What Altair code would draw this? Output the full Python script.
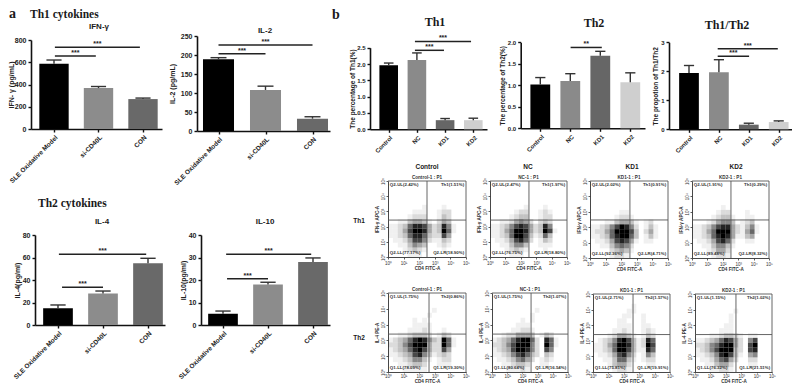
import json
import altair as alt
import pandas as pd

# ---------- data ----------
CYTO_CATS = ["SLE Oxidative Model", "si-CD40L", "CON"]
KD_CATS = ["Control", "NC", "KD1", "KD2"]

IFN_VALUES = [587, 368, 269]
IFN_TOPS = [620, 382, 278]
IFN_SIG = [(0.02, 0.94, 657, "***"), (0.02, 1.93, 734, "***")]

IL2_VALUES = [188.5, 108, 32.5]
IL2_TOPS = [193, 118, 37.5]
IL2_SIG = [(0, 1, 203, "***"), (0, 2, 226, "***")]

IL4_VALUES = [14.8, 27.9, 54.8]
IL4_TOPS = [17.8, 30.2, 59.3]
IL4_SIG = [(0.09, 1, 33.5, "***"), (0.02, 1.96, 63, "***")]

IL10_VALUES = [5, 18, 28]
IL10_TOPS = [6.2, 19, 29.8]
IL10_SIG = [(0.09, 1, 20.6, "***"), (0.07, 1.96, 31.4, "***")]

TH1_VALUES = [1.96, 2.12, 0.28, 0.28]
TH1_TOPS = [2.03, 2.34, 0.33, 0.34]
TH1_SIG = [(0.93, 1.96, 2.42, "***"), (0.93, 2.92, 2.69, "***")]

TH2_VALUES = [1.02, 1.10, 1.69, 1.07]
TH2_TOPS = [1.18, 1.27, 1.79, 1.29]
TH2_SIG = [(1.01, 2.05, 1.88, "**")]

RATIO_VALUES = [1.94, 1.97, 0.16, 0.25]
RATIO_TOPS = [2.2, 2.4, 0.21, 0.29]
RATIO_SIG = [(0.96, 2.01, 2.52, "***"), (0.96, 2.97, 2.78, "***")]

CYTO_COLORS = ["#000000", "#8c8c8c", "#696969"]
KD_COLORS = ["#000000", "#8a8a8a", "#666666", "#cfcfcf"]

E = "0000000000000000"
G_TH1_CONTROL = [E, E, E, E, E, "0000000100010000", "0000011100122000", "0000122200132000",
                 "0011344310243000", "1123688742385100", "1124799842396100", "1123688632274000",
                 "0112477521132000", "0011354300121000", "0001232100010000", "0000111000000000"]
G_TH1_NC = [E, E, E, E, E, "0000000100010000", "0000012200121000", "0000123300122000",
            "0011245420232000", "1123578742385000", "1124699842397100", "1123699731263000",
            "0112478620132000", "0011355300111000", "0001232100010000", "0000111000000000"]
G_TH1_KD1 = [E, E, E, E, E, E, "0000001100000000", "0000012210000000",
             "0001134431012000", "1123579852013100", "1224699973024100", "1123689963013100",
             "0112478741011000", "0011356520000000", "0000234310000000", "0000122100000000"]
G_TH1_KD2 = [E, E, E, E, E, "0000001000000000", "0000012200010000", "0000123310011000",
             "0001245530123000", "1123578842135100", "1124699942146100", "1123689841134000",
             "0112478620011000", "0011355310000000", "0001244200000000", "0000122100000000"]
G_TH2_CONTROL = [E, E, E, "0000000001000000", "0000000010000000", "0000010100000000",
                 "0000011110000000", "0000111210010000", "0011233320132000", "1234689853296100",
                 "2235799942296100", "1234689742274000", "1123478531232000", "0112355310122000",
                 "0011233200111000", "0001111100000000"]
G_TH2_NC = [E, E, E, "0000000001000000", "0000000010000000", "0000001010000000",
            "0000011100000000", "0000112210000000", "0012244430132000", "1234689962086100",
            "2235799952096100", "1234799852075000", "1123578632032000", "0112356420121000",
            "0011233200110000", "0001112100000000"]
G_TH2_KD1 = [E, E, "0000000010000000", "0000000110000000", "0000001100100000", "0000011000100000",
             "0000011100110000", "0000112100121000", "0001244310132000", "0123589731286000",
             "1124699831297000", "1123699731186000", "0112478520153000", "0011366310122000",
             "0001344200011000", "0000122100000000"]
G_TH2_KD2 = [E, E, E, "0000000010000000", "0000000100000000", "0000000100000000",
             "0000001100000000", "0000011100000000", "0001123321011000", "1123468742057000",
             "2235689942079000", "1235799932078000", "1123589731045000", "0112467420022000",
             "0011344200011000", "0001122100000000"]

Q_TH1_CONTROL = ["Q2-UL(2.42%)", "Th1(1.51%)", "Q2-LL(77.17%)", "Q2-LR(18.90%)"]
Q_TH1_NC = ["Q2-UL(2.47%)", "Th1(1.97%)", "Q2-LL(76.75%)", "Q2-LR(18.80%)"]
Q_TH1_KD1 = ["Q2-UL(2.02%)", "Th1(0.91%)", "Q2-LL(92.36%)", "Q2-LR(4.71%)"]
Q_TH1_KD2 = ["Q2-UL(1.91%)", "Th1(0.29%)", "Q2-LL(89.48%)", "Q2-LR(8.32%)"]
Q_TH2_CONTROL = ["Q1-UL(1.75%)", "Th2(0.86%)", "Q1-LL(78.09%)", "Q1-LR(19.30%)"]
Q_TH2_NC = ["Q1-UL(1.75%)", "Th2(1.07%)", "Q1-LL(80.64%)", "Q1-LR(16.54%)"]
Q_TH2_KD1 = ["Q1-UL(2.71%)", "Th2(1.57%)", "Q1-LL(75.81%)", "Q1-LR(19.91%)"]
Q_TH2_KD2 = ["Q1-UL(1.15%)", "Th2(1.02%)", "Q1-LL(76.32%)", "Q1-LR(21.51%)"]

DECADES = [0, 1, 2, 3, 4, 5]
SUPERS = ["⁰", "¹", "²", "³", "⁴", "⁵"]

# ---------- layout helpers (page margin is 8 px) ----------
W, H = 784, 376
SANS = "Liberation Sans"
SERIF = "Liberation Serif"


def px(v):
    return v - 8


def py(v):
    return v - 8


def label(text, x, y, size, font=SANS, bold=True, color="#1a1a1a", align="center", angle=0):
    return alt.Chart(pd.DataFrame({"t": [text]})).mark_text(
        font=font, fontSize=size, fontWeight="bold" if bold else "normal",
        color=color, align=align, baseline="middle", angle=angle
    ).encode(text="t:N", x=alt.value(px(x)), y=alt.value(py(y)))


def bar_panel(cats, vals, tops, sig, colors, ytitle, ymax, ytick, x0, x1, c0, step,
              ytop, ybot, half=0.33, cap=0.17, lab=7, xlab=6.5, tsize=7, title_pad=3):
    xs = alt.Scale(domain=[(x0 - c0) / step, (x1 - c0) / step],
                   range=[px(x0), px(x1)], nice=False, zero=False)
    ys = alt.Scale(domain=[0, ymax], range=[py(ybot), py(ytop)], nice=False)
    d = pd.DataFrame({"i": range(len(cats)), "v": vals, "top": tops, "c": colors[: len(cats)]})
    d["l"] = d["i"] - half
    d["r"] = d["i"] + half
    d["cl"] = d["i"] - cap
    d["cr"] = d["i"] + cap
    d["b"] = 0
    s = pd.DataFrame(sig, columns=["a", "b", "y", "t"])
    s["m"] = (s["a"] + s["b"]) / 2
    expr = json.dumps(cats) + "[datum.value]"
    xaxis = alt.Axis(orient="bottom", values=list(range(len(cats))), labelExpr=expr, title=None, grid=False,
                     labelAngle=-45, labelAlign="right", labelBaseline="top",
                     labelFontSize=xlab, labelFont=SANS, labelFontWeight="bold", labelColor="#222",
                     domainColor="#111", domainWidth=1.6, tickColor="#111", tickWidth=1.4, tickSize=3,
                     offset=py(ybot) - H, labelPadding=2, labelOverlap=False, labelBound=False,
                     labelFlush=False)
    yaxis = alt.Axis(orient="left", values=ytick, title=ytitle, grid=False, labelFontSize=lab, labelFont=SANS,
                     labelFontWeight="bold", labelColor="#222", titleFont=SANS, titleFontSize=tsize,
                     titleFontWeight="bold", titleColor="#222", domainColor="#111", domainWidth=1.6,
                     tickColor="#111", tickWidth=1.4, tickSize=3, offset=-px(x0), labelPadding=2,
                     titlePadding=title_pad, labelOverlap=False, labelFlush=False)
    bars = alt.Chart(d).mark_bar(stroke=None).encode(
        x=alt.X("l:Q", scale=xs, axis=xaxis), x2="r:Q",
        y=alt.Y("v:Q", scale=ys, axis=yaxis), y2="b:Q",
        color=alt.Color("c:N", scale=None),
    )
    stems = alt.Chart(d).mark_rule(color="#333", strokeWidth=1.4).encode(
        x=alt.X("i:Q", scale=xs, axis=None), y=alt.Y("v:Q", scale=ys, axis=None), y2="top:Q")
    caps = alt.Chart(d).mark_rule(color="#333", strokeWidth=1.4).encode(
        x=alt.X("cl:Q", scale=xs, axis=None), x2="cr:Q", y=alt.Y("top:Q", scale=ys, axis=None))
    lines = alt.Chart(s).mark_rule(color="#222", strokeWidth=1.5).encode(
        x=alt.X("a:Q", scale=xs, axis=None), x2="b:Q", y=alt.Y("y:Q", scale=ys, axis=None))
    stars = alt.Chart(s).mark_text(font=SANS, fontSize=7, fontWeight="bold", color="#222", dy=-3).encode(
        x=alt.X("m:Q", scale=xs, axis=None), y=alt.Y("y:Q", scale=ys, axis=None), text="t:N")
    return alt.layer(bars, stems, caps, lines, stars).resolve_axis(x="independent", y="independent")


def flow_panel(grid, quads, head, ytitle, gx, gy, x0, x1, ytop, ybot, xpad=1, tick=2):
    xs = alt.Scale(domain=[0, 5], range=[px(x0), px(x1)], nice=False, zero=False)
    ys = alt.Scale(domain=[0, 5], range=[py(ybot), py(ytop)], nice=False, zero=False)
    n = len(grid)
    cells = []
    for r, row in enumerate(grid):
        for c, ch in enumerate(row):
            if ch != "0":
                cells.append({"x": c * 5 / n, "x2": (c + 1) * 5 / n,
                              "y": 5 - (r + 1) * 5 / n, "y2": 5 - r * 5 / n,
                              "o": (int(ch) / 9) ** 1.3})
    cd = pd.DataFrame(cells)
    expr = json.dumps(["10" + t for t in SUPERS]) + "[datum.value]"
    common = dict(values=DECADES, labelExpr=expr, grid=False, labelFontSize=4.5, labelFont=SANS,
                  labelColor="#333", domainColor="#333", domainWidth=0.9, tickColor="#333",
                  tickWidth=0.8, labelOverlap=False, labelFlush=False,
                  titleFont=SANS, titleFontSize=4.6, titleFontWeight="bold", titleColor="#333")
    xaxis = alt.Axis(orient="bottom", title="CD4 FITC-A", offset=py(ybot) - H, titlePadding=xpad,
                     tickSize=tick, labelPadding=tick / 2, **common)
    yaxis = alt.Axis(orient="left", title=ytitle, offset=-px(x0), labelAngle=-90, labelAlign="center",
                     labelBaseline="bottom", titlePadding=1, tickSize=2, labelPadding=1, **common)
    heat = alt.Chart(cd).mark_rect(color="#000", stroke=None).encode(
        x=alt.X("x:Q", scale=xs, axis=xaxis), x2="x2:Q",
        y=alt.Y("y:Q", scale=ys, axis=yaxis), y2="y2:Q",
        opacity=alt.Opacity("o:Q", scale=None))
    frame = pd.DataFrame([
        {"x": gx, "x2": gx, "y": 0, "y2": 5},
        {"x": 0, "x2": 5, "y": gy, "y2": gy},
        {"x": 5, "x2": 5, "y": 0, "y2": 5},
        {"x": 0, "x2": 5, "y": 5, "y2": 5},
    ])
    lines = alt.Chart(frame).mark_rule(color="#555", strokeWidth=0.9).encode(
        x=alt.X("x:Q", scale=xs, axis=None), x2="x2:Q",
        y=alt.Y("y:Q", scale=ys, axis=None), y2="y2:Q")
    qd = pd.DataFrame({"x": [0.12, 4.88, 0.12, 4.88], "y": [4.72, 4.72, 0.28, 0.28], "t": quads,
                       "a": ["left", "right", "left", "right"]})
    left = alt.Chart(qd[qd.a == "left"]).mark_text(font=SANS, fontSize=4.4, fontWeight="bold", color="#333",
                                                   align="left").encode(
        x=alt.X("x:Q", scale=xs, axis=None), y=alt.Y("y:Q", scale=ys, axis=None), text="t:N")
    right = alt.Chart(qd[qd.a == "right"]).mark_text(font=SANS, fontSize=4.4, fontWeight="bold", color="#333",
                                                     align="right").encode(
        x=alt.X("x:Q", scale=xs, axis=None), y=alt.Y("y:Q", scale=ys, axis=None), text="t:N")
    hd = pd.DataFrame({"x": [2.5], "y": [5.2], "t": [head]})
    top = alt.Chart(hd).mark_text(font=SANS, fontSize=4.6, fontWeight="bold", color="#333").encode(
        x=alt.X("x:Q", scale=xs, axis=None), y=alt.Y("y:Q", scale=ys, axis=None), text="t:N")
    return alt.layer(heat, lines, left, right, top).resolve_axis(x="independent", y="independent")


panels = [
    bar_panel(CYTO_CATS, IFN_VALUES, IFN_TOPS, IFN_SIG, CYTO_COLORS, "IFN- γ (pg/mL)", 800,
              [0, 200, 400, 600, 800], 31, 162, 54, 44.5, 40, 129, title_pad=0),
    bar_panel(CYTO_CATS, IL2_VALUES, IL2_TOPS, IL2_SIG, CYTO_COLORS, "IL-2 (pg/mL)", 250,
              [0, 50, 100, 150, 200, 250], 197, 330, 218.5, 47, 36, 131, title_pad=5),
    bar_panel(CYTO_CATS, IL4_VALUES, IL4_TOPS, IL4_SIG, CYTO_COLORS, "IL-4(pg/ml)", 80,
              [0, 20, 40, 60, 80], 35, 165, 58, 45, 235, 325, title_pad=1.5),
    bar_panel(CYTO_CATS, IL10_VALUES, IL10_TOPS, IL10_SIG, CYTO_COLORS, "IL-10(pg/ml)", 40,
              [0, 10, 20, 30, 40], 201, 330, 223, 45, 235, 325, title_pad=1.5),
    bar_panel(KD_CATS, TH1_VALUES, TH1_TOPS, TH1_SIG, KD_COLORS, "The percentage of Th1(%)", 2.5,
              [0, 0.5, 1, 1.5, 2, 2.5], 370, 487, 388.7, 28.2, 47.7, 129.3, lab=6, xlab=6, tsize=6.5, title_pad=1.5),
    bar_panel(KD_CATS, TH2_VALUES, TH2_TOPS, TH2_SIG, KD_COLORS, "The percentage of Th2(%)", 2,
              [0, 0.5, 1, 1.5, 2], 520.7, 645, 540.3, 30, 42.3, 128.3, lab=6, xlab=6, tsize=6.5, title_pad=2),
    bar_panel(KD_CATS, RATIO_VALUES, RATIO_TOPS, RATIO_SIG, KD_COLORS, "The propotion of Th1/Th2", 3,
              [0, 1, 2, 3], 669, 795, 689, 29.9, 42.3, 129.3, lab=6, xlab=6, tsize=6.5, title_pad=2.4),
    flow_panel(G_TH1_CONTROL, Q_TH1_CONTROL, "Control-1 : P1", "IFN-γ APC-A", 2.5, 2.43, 388, 466, 181, 257),
    flow_panel(G_TH1_NC, Q_TH1_NC, "NC-1 : P1", "IFN-γ APC-A", 2.53, 2.43, 490, 567, 181, 257),
    flow_panel(G_TH1_KD1, Q_TH1_KD1, "KD1-1 : P1", "IFN-γ APC-A", 2.56, 2.47, 590, 668, 181, 258),
    flow_panel(G_TH1_KD2, Q_TH1_KD2, "KD2-1 : P1", "IFN-γ APC-A", 2.53, 2.47, 692, 769, 181, 258),
    flow_panel(G_TH2_CONTROL, Q_TH2_CONTROL, "Control-1 : P1", "IL-4 PE-A", 2.63, 2.4, 388, 466, 293, 372, xpad=0, tick=1),
    flow_panel(G_TH2_NC, Q_TH2_NC, "NC-1 : P1", "IL-4 PE-A", 2.57, 2.4, 492, 568, 293, 372, xpad=0, tick=1),
    flow_panel(G_TH2_KD1, Q_TH2_KD1, "KD1-1 : P1", "IL-4 PE-A", 2.6, 2.4, 593, 670, 294, 372, xpad=0, tick=1),
    flow_panel(G_TH2_KD2, Q_TH2_KD2, "KD2-1 : P1", "IL-4 PE-A", 2.66, 2.4, 695, 772, 294, 372, xpad=0, tick=1),
]

labels = [
    label("a", 9, 14, 14, SERIF, align="left"),
    label("Th1 cytokines", 30, 15, 11.5, SERIF, align="left"),
    label("Th2 cytokines", 38, 204, 11.5, SERIF, align="left"),
    label("b", 332, 15, 14, SERIF, align="left"),
    label("IFN-γ", 99, 27, 8),
    label("IL-2", 265, 31, 8),
    label("IL-4", 102, 222, 8),
    label("IL-10", 265, 222, 8),
    label("Th1", 435, 22, 12, SERIF),
    label("Th2", 594, 23, 12, SERIF),
    label("Th1/Th2", 727, 25, 12, SERIF),
    label("Control", 427, 167, 6.5),
    label("NC", 528, 167, 6.5),
    label("KD1", 632, 167, 6.5),
    label("KD2", 736, 167, 6.5),
    label("Th1", 359, 221, 6.5),
    label("Th2", 359, 338, 6.5),
]

chart = alt.layer(*panels, *labels).resolve_scale(
    x="independent", y="independent").resolve_axis(x="independent", y="independent").properties(
    width=W, height=H, padding=0,
    autosize=alt.AutoSizeParams(type="none", contains="padding"),
    background="white",
).configure_view(stroke=None)

chart.save("out.html", embed_options={"renderer": "svg", "actions": False})
